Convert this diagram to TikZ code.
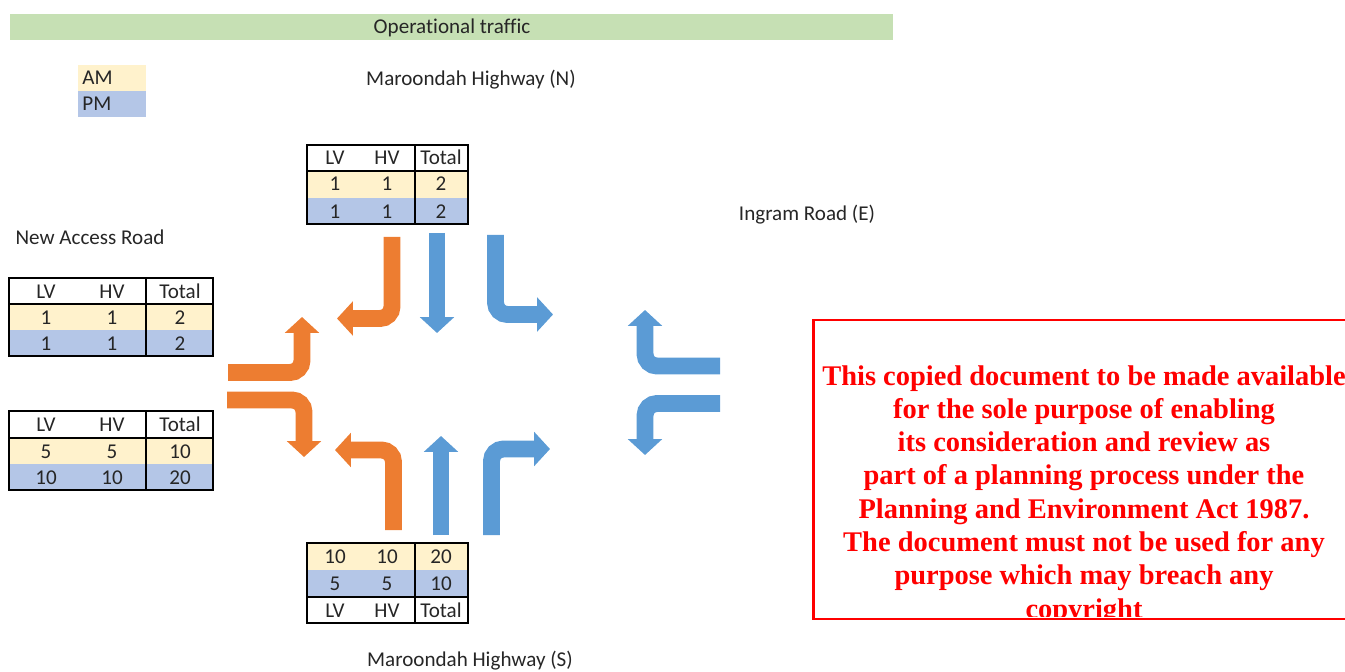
\documentclass[tikz,border=0pt]{standalone}
\usepackage{fontspec}
\setmainfont{Carlito}[Ligatures=NoCommon]
\newfontfamily\noticefont{Liberation Serif}
\usetikzlibrary{arrows.meta}

\definecolor{turnorange}{HTML}{ED7D31}
\definecolor{turnblue}{HTML}{5B9BD5}
\definecolor{amfill}{HTML}{FFF2CC}
\definecolor{pmfill}{HTML}{B4C6E7}
\definecolor{titlefill}{HTML}{C6E0B4}
\definecolor{labeltext}{HTML}{262626}

\begin{document}
\begin{tikzpicture}[
    x=0.02cm, y=-0.02cm,
    every node/.style={font=\fontsize{12}{14}\selectfont, text=labeltext, inner sep=0pt},
    roadlabel/.style={anchor=base},
    cell/.style={anchor=base},
    tableline/.style={line width=1.5pt, black},
    turn/.style={line width=9.6pt, rounded corners=6.8pt, -{Triangle[length=9pt, width=19pt]}},
    notice/.style={anchor=base, font=\noticefont\bfseries\fontsize{16.2}{19}\selectfont, text=red}
]
\clip (0,0) rectangle (1345,672);

% Title band and legend
\fill[titlefill] (10,14) rectangle (893,40);
\node[roadlabel] (title) at (452,34) {Operational traffic};
\fill[amfill] (78,65) rectangle (146,91);
\fill[pmfill] (78,91) rectangle (146,117);
\node[roadlabel, anchor=base west] (am) at (82,85) {AM};
\node[roadlabel, anchor=base west] (pm) at (82,111) {PM};

% Road names
\node[roadlabel] (north) at (471,86) {Maroondah Highway (N)};
\node[roadlabel] (east) at (807,220) {Ingram Road (E)};
\node[roadlabel] (west) at (90,245) {New Access Road};
\node[roadlabel] (south) at (470,666) {Maroondah Highway (S)};

% North approach volumes
\fill[amfill] (307,171) rectangle (468,198);
\fill[pmfill] (307,198) rectangle (468,224);
\draw[tableline] (307,145) rectangle (468,224) (307,171) -- (468,171) (415,145) -- (415,224);
\foreach \y/\lv/\hv/\tot [count=\r] in {165/LV/HV/Total, 191/1/1/2, 218/1/1/2} {
    \node[cell] (n\r lv) at (335,\y) {\lv};
    \node[cell] (n\r hv) at (387,\y) {\hv};
    \node[cell] (n\r tot) at (441,\y) {\tot};
}

% West approach volumes (upper)
\fill[amfill] (9,304) rectangle (213,330);
\fill[pmfill] (9,330) rectangle (213,356);
\draw[tableline] (9,278) rectangle (213,356) (9,304) -- (213,304) (146,278) -- (146,356);
\foreach \y/\lv/\hv/\tot [count=\r] in {298/LV/HV/Total, 324/1/1/2, 350/1/1/2} {
    \node[cell] (wa\r lv) at (46,\y) {\lv};
    \node[cell] (wa\r hv) at (112,\y) {\hv};
    \node[cell] (wa\r tot) at (180,\y) {\tot};
}

% West approach volumes (lower)
\fill[amfill] (9,438) rectangle (213,464);
\fill[pmfill] (9,464) rectangle (213,490);
\draw[tableline] (9,411) rectangle (213,490) (9,438) -- (213,438) (146,411) -- (146,490);
\foreach \y/\lv/\hv/\tot [count=\r] in {431/LV/HV/Total, 458/5/5/10, 484/10/10/20} {
    \node[cell] (wb\r lv) at (46,\y) {\lv};
    \node[cell] (wb\r hv) at (112,\y) {\hv};
    \node[cell] (wb\r tot) at (180,\y) {\tot};
}

% South approach volumes, header at the bottom
\fill[amfill] (307,543) rectangle (468,570);
\fill[pmfill] (307,570) rectangle (468,597);
\draw[tableline] (307,543) rectangle (468,623) (307,597) -- (468,597) (415,543) -- (415,623);
\foreach \y/\lv/\hv/\tot [count=\r] in {563/10/10/20, 590/5/5/10, 617/LV/HV/Total} {
    \node[cell] (s\r lv) at (335,\y) {\lv};
    \node[cell] (s\r hv) at (387,\y) {\hv};
    \node[cell] (s\r tot) at (441,\y) {\tot};
}

% Turning movements
\draw[turn, turnorange] (392,237) -- (392,318.5) -- (337,318.5);
\draw[turn, turnblue] (437,233) -- (437,333);
\draw[turn, turnblue] (495.5,235) -- (495.5,314.5) -- (553,314.5);
\draw[turn, turnorange] (228,372.5) -- (302,372.5) -- (302,317);
\draw[turn, turnorange] (227,400) -- (304,400) -- (304,457);
\draw[turn, turnorange] (393.5,530) -- (393.5,450) -- (335,450);
\draw[turn, turnblue] (441,535) -- (441,436);
\draw[turn, turnblue] (491.5,535) -- (491.5,449) -- (550,449);
\draw[turn, turnblue] (720,366) -- (645,366) -- (645,310);
\draw[turn, turnblue] (720,403.5) -- (645,403.5) -- (645,455);

% Notice box
\begin{scope}
    \clip (815,322) rectangle (1360,616);
    \foreach \txt [count=\i] in {This copied document to be made available,
        for the sole purpose of enabling, its consideration and review as,
        part of a planning process under the, Planning and Environment Act 1987.,
        The document must not be used for any, purpose which may breach any, copyright} {
        \node[notice] (notice\i) at (1084,{351.7+33.3*\i}) {\txt};
    }
\end{scope}
\draw[red, line width=1.7pt] (813,320) rectangle (1360,619);

\end{tikzpicture}
\end{document}
